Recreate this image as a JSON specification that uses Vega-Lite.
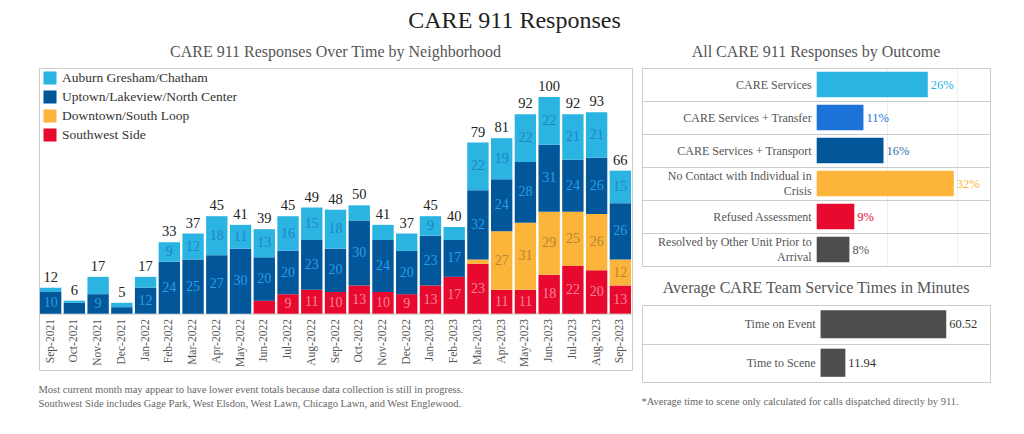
{
  "$schema": "https://vega.github.io/schema/vega-lite/v6.json",
  "padding": {"left": 38, "top": 8, "right": 0, "bottom": 0},
  "background": "white",
  "config": {
    "font": "Liberation Serif",
    "view": {"stroke": "#cccccc", "strokeWidth": 1},
    "title": {"font": "Liberation Serif", "subtitleFont": "Liberation Serif", "fontWeight": "normal", "color": "#555555", "fontSize": 16},
    "axis": {"labelFont": "Liberation Serif", "titleFont": "Liberation Serif"},
    "legend": {"labelFont": "Liberation Serif", "titleFont": "Liberation Serif"},
    "text": {"font": "Liberation Serif"},
    "mark": {"font": "Liberation Serif"}
  },
  "datasets": {
    "months": [
      {"month": "Sep-2021", "neighborhood": "Uptown/Lakeview/North Center", "value": 10},
      {"month": "Sep-2021", "neighborhood": "Auburn Gresham/Chatham", "value": 2},
      {"month": "Oct-2021", "neighborhood": "Uptown/Lakeview/North Center", "value": 5},
      {"month": "Oct-2021", "neighborhood": "Auburn Gresham/Chatham", "value": 1},
      {"month": "Nov-2021", "neighborhood": "Uptown/Lakeview/North Center", "value": 9},
      {"month": "Nov-2021", "neighborhood": "Auburn Gresham/Chatham", "value": 8},
      {"month": "Dec-2021", "neighborhood": "Uptown/Lakeview/North Center", "value": 3},
      {"month": "Dec-2021", "neighborhood": "Auburn Gresham/Chatham", "value": 2},
      {"month": "Jan-2022", "neighborhood": "Uptown/Lakeview/North Center", "value": 12},
      {"month": "Jan-2022", "neighborhood": "Auburn Gresham/Chatham", "value": 5},
      {"month": "Feb-2022", "neighborhood": "Uptown/Lakeview/North Center", "value": 24},
      {"month": "Feb-2022", "neighborhood": "Auburn Gresham/Chatham", "value": 9},
      {"month": "Mar-2022", "neighborhood": "Uptown/Lakeview/North Center", "value": 25},
      {"month": "Mar-2022", "neighborhood": "Auburn Gresham/Chatham", "value": 12},
      {"month": "Apr-2022", "neighborhood": "Uptown/Lakeview/North Center", "value": 27},
      {"month": "Apr-2022", "neighborhood": "Auburn Gresham/Chatham", "value": 18},
      {"month": "May-2022", "neighborhood": "Uptown/Lakeview/North Center", "value": 30},
      {"month": "May-2022", "neighborhood": "Auburn Gresham/Chatham", "value": 11},
      {"month": "Jun-2022", "neighborhood": "Southwest Side", "value": 6},
      {"month": "Jun-2022", "neighborhood": "Uptown/Lakeview/North Center", "value": 20},
      {"month": "Jun-2022", "neighborhood": "Auburn Gresham/Chatham", "value": 13},
      {"month": "Jul-2022", "neighborhood": "Southwest Side", "value": 9},
      {"month": "Jul-2022", "neighborhood": "Uptown/Lakeview/North Center", "value": 20},
      {"month": "Jul-2022", "neighborhood": "Auburn Gresham/Chatham", "value": 16},
      {"month": "Aug-2022", "neighborhood": "Southwest Side", "value": 11},
      {"month": "Aug-2022", "neighborhood": "Uptown/Lakeview/North Center", "value": 23},
      {"month": "Aug-2022", "neighborhood": "Auburn Gresham/Chatham", "value": 15},
      {"month": "Sep-2022", "neighborhood": "Southwest Side", "value": 10},
      {"month": "Sep-2022", "neighborhood": "Uptown/Lakeview/North Center", "value": 20},
      {"month": "Sep-2022", "neighborhood": "Auburn Gresham/Chatham", "value": 18},
      {"month": "Oct-2022", "neighborhood": "Southwest Side", "value": 13},
      {"month": "Oct-2022", "neighborhood": "Uptown/Lakeview/North Center", "value": 30},
      {"month": "Oct-2022", "neighborhood": "Auburn Gresham/Chatham", "value": 7},
      {"month": "Nov-2022", "neighborhood": "Southwest Side", "value": 10},
      {"month": "Nov-2022", "neighborhood": "Uptown/Lakeview/North Center", "value": 24},
      {"month": "Nov-2022", "neighborhood": "Auburn Gresham/Chatham", "value": 7},
      {"month": "Dec-2022", "neighborhood": "Southwest Side", "value": 9},
      {"month": "Dec-2022", "neighborhood": "Uptown/Lakeview/North Center", "value": 20},
      {"month": "Dec-2022", "neighborhood": "Auburn Gresham/Chatham", "value": 8},
      {"month": "Jan-2023", "neighborhood": "Southwest Side", "value": 13},
      {"month": "Jan-2023", "neighborhood": "Uptown/Lakeview/North Center", "value": 23},
      {"month": "Jan-2023", "neighborhood": "Auburn Gresham/Chatham", "value": 9},
      {"month": "Feb-2023", "neighborhood": "Southwest Side", "value": 17},
      {"month": "Feb-2023", "neighborhood": "Uptown/Lakeview/North Center", "value": 17},
      {"month": "Feb-2023", "neighborhood": "Auburn Gresham/Chatham", "value": 6},
      {"month": "Mar-2023", "neighborhood": "Southwest Side", "value": 23},
      {"month": "Mar-2023", "neighborhood": "Downtown/South Loop", "value": 2},
      {"month": "Mar-2023", "neighborhood": "Uptown/Lakeview/North Center", "value": 32},
      {"month": "Mar-2023", "neighborhood": "Auburn Gresham/Chatham", "value": 22},
      {"month": "Apr-2023", "neighborhood": "Southwest Side", "value": 11},
      {"month": "Apr-2023", "neighborhood": "Downtown/South Loop", "value": 27},
      {"month": "Apr-2023", "neighborhood": "Uptown/Lakeview/North Center", "value": 24},
      {"month": "Apr-2023", "neighborhood": "Auburn Gresham/Chatham", "value": 19},
      {"month": "May-2023", "neighborhood": "Southwest Side", "value": 11},
      {"month": "May-2023", "neighborhood": "Downtown/South Loop", "value": 31},
      {"month": "May-2023", "neighborhood": "Uptown/Lakeview/North Center", "value": 28},
      {"month": "May-2023", "neighborhood": "Auburn Gresham/Chatham", "value": 22},
      {"month": "Jun-2023", "neighborhood": "Southwest Side", "value": 18},
      {"month": "Jun-2023", "neighborhood": "Downtown/South Loop", "value": 29},
      {"month": "Jun-2023", "neighborhood": "Uptown/Lakeview/North Center", "value": 31},
      {"month": "Jun-2023", "neighborhood": "Auburn Gresham/Chatham", "value": 22},
      {"month": "Jul-2023", "neighborhood": "Southwest Side", "value": 22},
      {"month": "Jul-2023", "neighborhood": "Downtown/South Loop", "value": 25},
      {"month": "Jul-2023", "neighborhood": "Uptown/Lakeview/North Center", "value": 24},
      {"month": "Jul-2023", "neighborhood": "Auburn Gresham/Chatham", "value": 21},
      {"month": "Aug-2023", "neighborhood": "Southwest Side", "value": 20},
      {"month": "Aug-2023", "neighborhood": "Downtown/South Loop", "value": 26},
      {"month": "Aug-2023", "neighborhood": "Uptown/Lakeview/North Center", "value": 26},
      {"month": "Aug-2023", "neighborhood": "Auburn Gresham/Chatham", "value": 21},
      {"month": "Sep-2023", "neighborhood": "Southwest Side", "value": 13},
      {"month": "Sep-2023", "neighborhood": "Downtown/South Loop", "value": 12},
      {"month": "Sep-2023", "neighborhood": "Uptown/Lakeview/North Center", "value": 26},
      {"month": "Sep-2023", "neighborhood": "Auburn Gresham/Chatham", "value": 15}
    ],
    "hoods": [
      {"neighborhood": "Southwest Side", "rank": 1},
      {"neighborhood": "Downtown/South Loop", "rank": 2},
      {"neighborhood": "Uptown/Lakeview/North Center", "rank": 3},
      {"neighborhood": "Auburn Gresham/Chatham", "rank": 4}
    ],
    "outcomes": [
      {"outcome": "CARE Services", "label": "CARE Services", "lines": 1, "count": 316, "pct": 0.26},
      {"outcome": "CARE Services + Transfer", "label": "CARE Services + Transfer", "lines": 1, "count": 133, "pct": 0.11},
      {"outcome": "CARE Services + Transport", "label": "CARE Services + Transport", "lines": 1, "count": 190, "pct": 0.16},
      {"outcome": "No Contact with Individual in Crisis", "label": "No Contact with Individual in\nCrisis", "lines": 2, "count": 390, "pct": 0.32},
      {"outcome": "Refused Assessment", "label": "Refused Assessment", "lines": 1, "count": 107, "pct": 0.09},
      {"outcome": "Resolved by Other Unit Prior to Arrival", "label": "Resolved by Other Unit Prior to\nArrival", "lines": 2, "count": 93, "pct": 0.08}
    ],
    "times": [
      {"measure": "Time on Event", "minutes": 60.52},
      {"measure": "Time to Scene", "minutes": 11.94}
    ]
  },
  "title": {"text": "CARE 911 Responses", "font": "Liberation Serif", "fontSize": 24, "color": "#222222", "anchor": "middle", "offset": 11},
  "hconcat": [
    {
      "title": {
        "text": [
          "Most current month may appear to have lower event totals because data collection is still in progress.",
          "Southwest Side includes Gage Park, West Elsdon, West Lawn, Chicago Lawn, and West Englewood."
        ],
        "orient": "bottom", "anchor": "start", "font": "Liberation Serif", "fontSize": 10.5, "color": "#666666", "lineHeight": 14, "offset": 14
      },
      "vconcat": [
        {
          "title": {"text": "CARE 911 Responses Over Time by Neighborhood", "font": "Liberation Serif", "anchor": "middle", "offset": 8},
          "width": 593,
          "height": 302,
          "data": {"name": "months"},
          "transform": [
            {"lookup": "neighborhood", "from": {"data": {"name": "hoods"}, "key": "neighborhood", "fields": ["rank"]}}
          ],
          "encoding": {
            "x": {
              "field": "month", "type": "nominal",
              "scale": {
                "domain": ["Sep-2021","Oct-2021","Nov-2021","Dec-2021","Jan-2022","Feb-2022","Mar-2022","Apr-2022","May-2022","Jun-2022","Jul-2022","Aug-2022","Sep-2022","Oct-2022","Nov-2022","Dec-2022","Jan-2023","Feb-2023","Mar-2023","Apr-2023","May-2023","Jun-2023","Jul-2023","Aug-2023","Sep-2023"],
                "paddingInner": 0.1, "paddingOuter": 0.04
              },
              "axis": {
                "title": null, "offset": -56.4, "labelAngle": -90, "labelFont": "Liberation Serif", "labelFontSize": 11.5, "labelColor": "#555555",
                "ticks": false, "labelPadding": 5, "domainColor": "#cccccc", "grid": false
              }
            }
          },
          "layer": [
            {
              "mark": {"type": "bar"},
              "encoding": {
                "y": {"field": "value", "type": "quantitative", "stack": "zero", "scale": {"domain": [-26, 113.4], "nice": false, "zero": false}, "axis": null},
                "color": {
                  "field": "neighborhood", "type": "nominal",
                  "scale": {
                    "domain": ["Auburn Gresham/Chatham", "Uptown/Lakeview/North Center", "Downtown/South Loop", "Southwest Side"],
                    "range": ["#2bb3e2", "#02569a", "#fcb43a", "#e8092e"]
                  },
                  "legend": {
                    "title": null, "orient": "none", "legendX": 4, "legendY": 3, "symbolType": "square", "symbolSize": 170,
                    "symbolStrokeWidth": 0, "symbolOpacity": 1, "labelFont": "Liberation Serif", "labelFontSize": 13.5, "labelColor": "#333333",
                    "labelLimit": 400, "rowPadding": 5, "labelOffset": 5
                  }
                },
                "order": {"field": "rank", "type": "quantitative", "sort": "ascending"}
              }
            },
            {
              "mark": {"type": "text", "font": "Liberation Serif", "fontSize": 14, "baseline": "middle"},
              "encoding": {
                "y": {"field": "value", "type": "quantitative", "stack": "zero", "bandPosition": 0.5},
                "order": {"field": "rank", "type": "quantitative", "sort": "ascending"},
                "text": {"field": "value", "type": "quantitative", "condition": {"test": "datum.value < 9", "value": ""}},
                "color": {
                  "field": "neighborhood", "type": "nominal",
                  "scale": {
                    "domain": ["Auburn Gresham/Chatham", "Uptown/Lakeview/North Center", "Downtown/South Loop", "Southwest Side"],
                    "range": ["#1f86c2", "#2a9ee2", "#b5862e", "#f7839c"]
                  },
                  "legend": null
                }
              }
            },
            {
              "mark": {"type": "text", "font": "Liberation Serif", "fontSize": 14.5, "baseline": "bottom", "dy": -3, "color": "#222222"},
              "encoding": {
                "y": {"aggregate": "sum", "field": "value", "type": "quantitative"},
                "text": {"aggregate": "sum", "field": "value", "type": "quantitative"}
              }
            }
          ],
          "resolve": {"scale": {"color": "independent"}}
        }
      ]
    },
    {
      "title": {
        "text": "*Average time to scene only calculated for calls dispatched directly by 911.",
        "orient": "bottom", "anchor": "start", "font": "Liberation Serif", "fontSize": 10.5, "color": "#666666", "offset": 14
      },
      "spacing": 12,
      "vconcat": [
        {
          "title": {"text": "All CARE 911 Responses by Outcome", "font": "Liberation Serif", "anchor": "middle", "offset": 8},
          "width": 348,
          "height": 198,
          "data": {"name": "outcomes"},
          "encoding": {
            "y": {
              "field": "outcome", "type": "nominal", "sort": null,
              "scale": {"paddingInner": 0, "paddingOuter": 0},
              "axis": {"title": null, "labels": false, "ticks": false, "domain": false, "grid": true, "tickBand": "extent", "gridColor": "#cccccc"}
            }
          },
          "layer": [
            {
              "mark": {"type": "bar", "height": {"band": 0.78}},
              "encoding": {
                "x": {
                  "field": "count", "type": "quantitative",
                  "scale": {"domain": [-497, 493], "nice": false, "zero": false},
                  "axis": {"values": [200, 400], "grid": true, "gridColor": "#eeeeee", "labels": false, "ticks": false, "domain": false, "title": null}
                },
                "color": {
                  "field": "outcome", "type": "nominal", "sort": null,
                  "scale": {"range": ["#2bb3e2", "#1b73d9", "#02569a", "#fcb43a", "#e8092e", "#4d4d4d"]},
                  "legend": null
                }
              }
            },
            {
              "mark": {"type": "rule", "color": "#aaaaaa"},
              "encoding": {"x": {"datum": 0}}
            },
            {
              "transform": [{"filter": "datum.lines == 1"}],
              "mark": {"type": "text", "font": "Liberation Serif", "align": "right", "baseline": "middle", "dx": -5, "fontSize": 12, "color": "#555555"},
              "encoding": {
                "x": {"datum": 0},
                "text": {"field": "label"}
              }
            },
            {
              "transform": [{"filter": "datum.lines == 2"}],
              "mark": {"type": "text", "font": "Liberation Serif", "align": "right", "baseline": "middle", "dx": -5, "dy": -7.5, "fontSize": 12, "color": "#555555", "lineBreak": "\n", "lineHeight": 15},
              "encoding": {
                "x": {"datum": 0},
                "text": {"field": "label"}
              }
            },
            {
              "mark": {"type": "text", "font": "Liberation Serif", "align": "left", "baseline": "middle", "dx": 3, "fontSize": 12.5},
              "encoding": {
                "x": {"field": "count", "type": "quantitative"},
                "text": {"field": "pct", "type": "quantitative", "format": ".0%"},
                "color": {
                  "field": "outcome", "type": "nominal", "sort": null,
                  "scale": {"range": ["#2bb3e2", "#1b73d9", "#2c6ea6", "#fcb43a", "#e8092e", "#555555"]},
                  "legend": null
                }
              }
            }
          ],
          "resolve": {"scale": {"color": "independent"}}
        },
        {
          "title": {"text": "Average CARE Team Service Times in Minutes", "font": "Liberation Serif", "anchor": "middle", "offset": 9},
          "width": 348,
          "height": 77,
          "data": {"name": "times"},
          "encoding": {
            "y": {
              "field": "measure", "type": "nominal", "sort": null,
              "scale": {"paddingInner": 0, "paddingOuter": 0},
              "axis": {"title": null, "labels": false, "ticks": false, "domain": false, "grid": true, "tickBand": "extent", "gridColor": "#cccccc"}
            }
          },
          "layer": [
            {
              "mark": {"type": "bar", "height": {"band": 0.73}, "color": "#4d4d4d"},
              "encoding": {
                "x": {
                  "field": "minutes", "type": "quantitative",
                  "scale": {"domain": [-86, 81.6], "nice": false, "zero": false},
                  "axis": null
                }
              }
            },
            {
              "mark": {"type": "rule", "color": "#aaaaaa"},
              "encoding": {"x": {"datum": 0}}
            },
            {
              "mark": {"type": "text", "font": "Liberation Serif", "align": "right", "baseline": "middle", "dx": -5, "fontSize": 12, "color": "#555555"},
              "encoding": {
                "x": {"datum": 0},
                "text": {"field": "measure"}
              }
            },
            {
              "mark": {"type": "text", "font": "Liberation Serif", "align": "left", "baseline": "middle", "dx": 3, "fontSize": 12.5, "color": "#333333"},
              "encoding": {
                "x": {"field": "minutes", "type": "quantitative"},
                "text": {"field": "minutes", "type": "quantitative", "format": ".2f"}
              }
            }
          ]
        }
      ]
    }
  ],
  "spacing": 8
}
